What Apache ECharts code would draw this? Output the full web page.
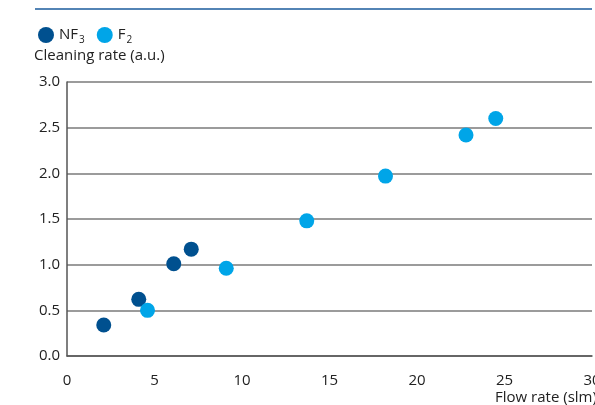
<!DOCTYPE html>
<html><head><meta charset="utf-8">
<script src="https://cdn.jsdelivr.net/npm/echarts@6/dist/echarts.min.js"></script>
<style>html,body{margin:0;padding:0;background:#fff}#c{width:595px;height:405px}</style>
</head><body><div id="c"></div>
<script>
const nf3X = [2.1, 4.1, 6.1, 7.1];
const nf3Y = [0.34, 0.62, 1.01, 1.17];
const f2X = [4.6, 9.1, 13.7, 18.2, 22.8, 24.5];
const f2Y = [0.50, 0.96, 1.48, 1.97, 2.42, 2.60];
const seriesNames = ['NF3', 'F2'];
const colors = ['#00508f', '#00a5e8'];
const fontFam = '"Open Sans", "Noto Sans", sans-serif';

const chart = echarts.init(document.getElementById('c'));
chart.setOption({
  animation: false,
  textStyle: { fontFamily: fontFam },
  grid: { left: 67, right: 3, top: 82, bottom: 49, containLabel: false, outerBoundsMode: 'none' },
  legend: {
    left: 33, top: 22, itemWidth: 16, itemHeight: 16, itemGap: 12, icon: 'circle',
    data: seriesNames,
    formatter: n => '{a|' + n.slice(0, -1) + '}{s|' + n.slice(-1) + '}',
    textStyle: {
      color: '#222',
      rich: {
        a: { fontSize: 15, fontFamily: fontFam, color: '#222' },
        s: { fontSize: 10, fontFamily: fontFam, color: '#222', padding: [11, 0, 0, 1] }
      }
    }
  },
  xAxis: {
    type: 'value', min: 0, max: 30, interval: 5,
    name: 'Flow rate (slm)', nameLocation: 'end', nameGap: -97,
    nameTextStyle: { fontSize: 15, color: '#222', align: 'left', verticalAlign: 'top', padding: [34, 0, 0, 0] },
    axisLine: { show: true, lineStyle: { color: '#555', width: 1.5 } },
    axisTick: { show: false },
    splitLine: { show: false },
    axisLabel: { fontSize: 15, color: '#222', margin: 17 }
  },
  yAxis: {
    type: 'value', min: 0, max: 3, interval: 0.5,
    name: 'Cleaning rate (a.u.)', nameLocation: 'end', nameGap: 19,
    nameTextStyle: { fontSize: 15, color: '#222', align: 'left', padding: [0, 0, 0, -33] },
    axisLine: { show: true, lineStyle: { color: '#555', width: 1.5 } },
    axisTick: { show: false },
    splitLine: { show: true, lineStyle: { color: '#7a7a7a', width: 1.5 } },
    axisLabel: { fontSize: 15, color: '#222', margin: 7, formatter: v => v.toFixed(1) }
  },
  graphic: [{
    type: 'line', shape: { x1: 35, y1: 9, x2: 592, y2: 9 },
    style: { stroke: '#1a5b9c', lineWidth: 1.5 }
  }],
  series: [
    { name: seriesNames[0], type: 'scatter', symbolSize: 15, itemStyle: { color: colors[0], opacity: 1 },
      data: nf3X.map((x, i) => [x, nf3Y[i]]) },
    { name: seriesNames[1], type: 'scatter', symbolSize: 15, itemStyle: { color: colors[1], opacity: 1 },
      data: f2X.map((x, i) => [x, f2Y[i]]) }
  ]
});
</script></body></html>
